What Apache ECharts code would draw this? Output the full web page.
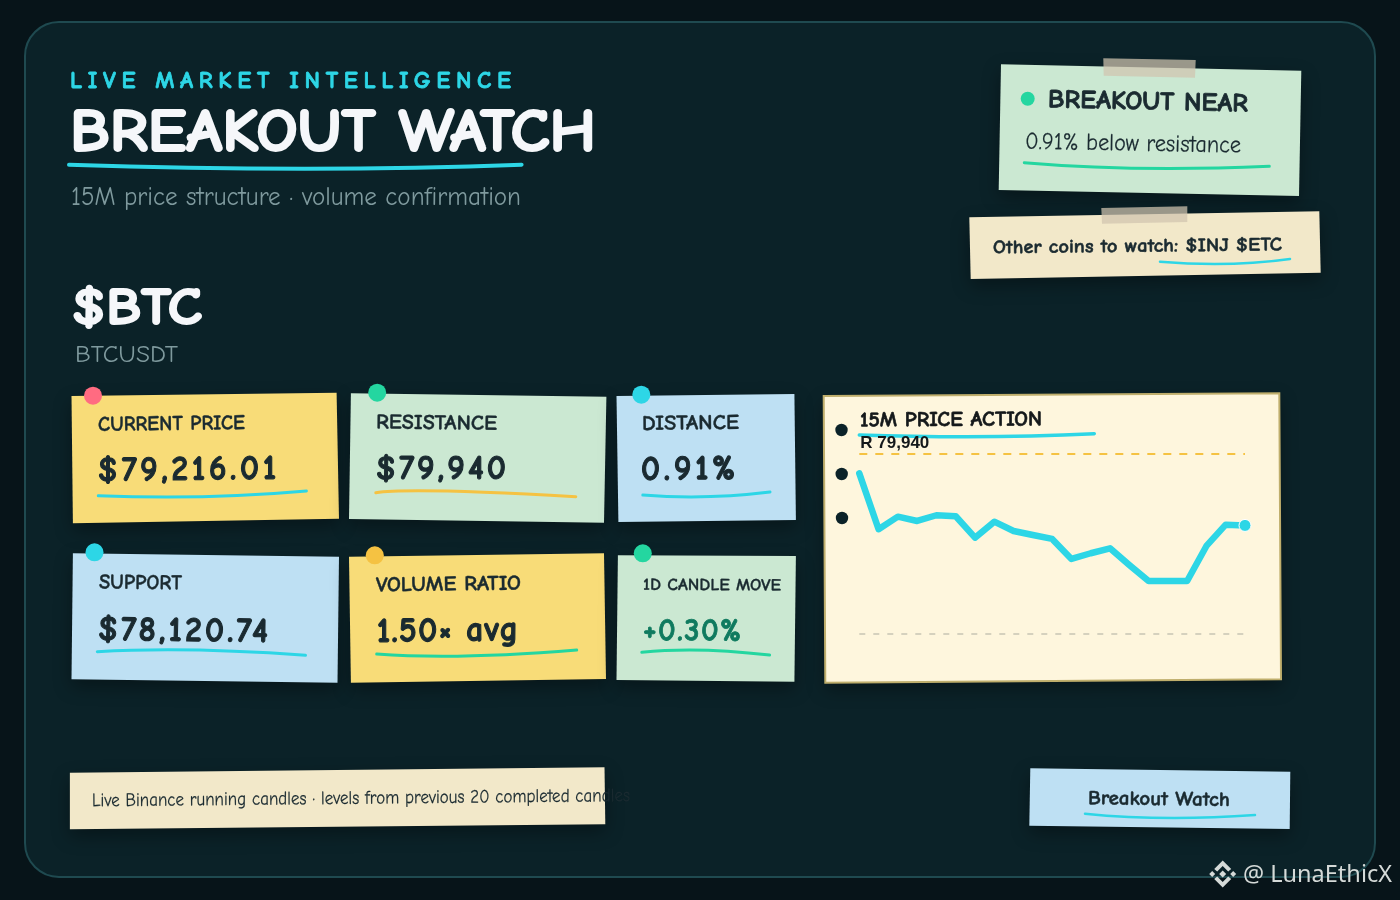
<!DOCTYPE html>
<html><head><meta charset="utf-8">
<style>html,body{margin:0;padding:0;background:#071419}#c{width:1400px;height:900px}</style>
<script src="https://cdn.jsdelivr.net/npm/echarts@6/dist/echarts.min.js"></script>
</head><body><div id="c"></div>
<script>
const candles = ['c01','c02','c03','c04','c05','c06','c07','c08','c09','c10','c11','c12','c13','c14','c15','c16','c17','c18','c19','c20','c21'];
const prices = [79744,79177,79305,79261,79319,79309,79092,79254,79160,79119,79079,78876,78934,78984,78815,78653,78653,78653,79008,79224,79216.01];
const resistance = 79940;
const support = 78120.74;
const resistanceLabel = 'R 79,940';
const HAND = '"Comic Neue","Comic Sans MS","Chalkboard SE",cursive';
const INK = '#1a2a30', CYAN = '#2dd6e6', GREEN = '#24d6a0', GOLD = '#f5c242', WHITE = '#f5f7fa', MUTED = '#7f9a9e';
const YELLOW = '#f8dc78', MINT = '#cbe8d2', SKY = '#bee0f3', CREAM = '#f2e8c9';

// letter spacing for the tracked text
const tracked = {};
for (const fn of ['fillText','strokeText']) {
  const orig = CanvasRenderingContext2D.prototype[fn];
  CanvasRenderingContext2D.prototype[fn] = function(t,x,y){
    if ('letterSpacing' in this) this.letterSpacing = tracked[t] ? tracked[t]+'px' : '0px';
    return orig.call(this,t,x,y);
  };
}

const el = [];
const measure = document.createElement('canvas').getContext('2d');
function note(pts, fill){
  el.push({type:'polygon', z:0, silent:true, shape:{points:pts},
    style:{fill, shadowBlur:18, shadowColor:'rgba(0,0,0,.35)', shadowOffsetY:7}});
}
function tape(pts){ el.push({type:'polygon', z:1, silent:true, shape:{points:pts}, style:{fill:'rgba(208,196,176,.73)'}}); }
function dot(x,y,r,fill,z){ el.push({type:'circle', z:z||3, silent:true, shape:{cx:x,cy:y,r}, style:{fill}}); }
function stroke(a,m,b,color,w){
  const cx = 2*m[0]-(a[0]+b[0])/2, cy = 2*m[1]-(a[1]+b[1])/2;
  el.push({type:'bezierCurve', z:1, silent:true, shape:{x1:a[0],y1:a[1],x2:b[0],y2:b[1],cpx1:cx,cpy1:cy},
    style:{stroke:color, lineWidth:w, lineCap:'round', fill:null}});
}
function txt(text,x,y,size,weight,fill,deg,width,family,heavy){
  const font = weight+' '+size+'px '+(family||HAND);
  measure.font = font;
  const sx = width ? width/measure.measureText(text).width : 1;
  const style = {text, x:0, y:0, font, fill, textAlign:'left', verticalAlign:'middle'};
  if (heavy) { style.stroke = fill; style.lineWidth = heavy; style.lineJoin='round'; }
  el.push({type:'text', z:5, silent:true, x, y, rotation:-(deg||0)*Math.PI/180, scaleX:sx, style});
}
function spaced(text,x,y,size,fill,sx,width,heavy,deg){
  const font = 'bold '+size+'px '+HAND;
  measure.font = font;
  const natural = measure.measureText(text).width*sx;
  tracked[text] = (width-natural)/(text.length-1)/sx;
  const style = {text, x:0, y:0, font, fill, textAlign:'left', verticalAlign:'middle', stroke:fill, lineWidth:heavy, lineJoin:'round'};
  el.push({type:'text', z:5, silent:true, x, y, rotation:-(deg||0)*Math.PI/180, scaleX:sx, style});
}

// panel
el.push({type:'rect', z:0, silent:true, shape:{x:25,y:22,width:1350,height:855,r:34}, style:{fill:'#0b2228', stroke:'#1f4a50', lineWidth:2}});

// header
spaced('LIVE MARKET INTELLIGENCE',70,80.5,25,CYAN,0.95,441,0.8);
txt('BREAKOUT WATCH',70,134,60,'bold',WHITE,0,526,null,2);
stroke([69,164.7],[304.5,168.7],[521.6,164.7],CYAN,4);
txt('15M price structure · volume confirmation',71,198,26,'normal',MUTED,0,450);
txt('$BTC',72,309,52,'bold',WHITE,0,130,null,2);
txt('BTCUSDT',75,355,24,'normal',MUTED,0,103);

// top right notes
note([[1001,64.3],[1301.3,70.7],[1299,196],[998.7,190]],MINT);
tape([[1103.3,58.3],[1195.7,60],[1195,77.7],[1103.7,75.7]]);
dot(1027.7,98.7,7,GREEN);
txt('BREAKOUT NEAR',1048,100,26,'bold',INK,1.2,200,null,0.8);
txt('0.91% below resistance',1025,142,24,'normal',INK,1,216,null,0.2);
stroke([1024.3,162.7],[1140,168.3],[1269.3,166.3],GREEN,3);
note([[969.3,217.3],[1319.3,211.3],[1320.7,272.7],[970.7,279]],CREAM);
tape([[1101.3,208],[1187.3,206.3],[1187.3,222],[1102,223.7]]);
txt('Other coins to watch: $INJ $ETC',993,248,19,'bold',INK,-0.6,289,null,0.5);
stroke([1160,261.7],[1226.7,264],[1290,259],CYAN,2.5);

// cards
note([[71.5,396],[336.6,392.7],[339,518.7],[72.9,523.3]],YELLOW);
note([[350.9,393.3],[606.4,396.7],[604,522.7],[349,519]],MINT);
note([[616.5,396],[794.4,394],[795.9,520],[618.4,522]],SKY);
note([[72.9,553.3],[339,556.7],[337.5,682.7],[71.5,679.3]],SKY);
note([[349,556.7],[604,553.3],[606,679],[350.9,682.7]],YELLOW);
note([[617.9,555.3],[795.9,556],[794.4,681.7],[616.5,680]],MINT);
dot(93,395.7,9,'#ff6b81');
dot(377.2,392.7,9,GREEN);
dot(641.3,394.7,9,CYAN);
dot(94.5,552.3,9,CYAN);
dot(374.8,555.3,9,GOLD);
dot(642.8,553.3,9,GREEN);

txt('CURRENT PRICE',98,425,21,'bold',INK,-0.7,147,null,0.4);
spaced('$79,216.01',98,471,35,INK,0.96,178,1.1,-0.7);
stroke([98.3,495.7],[203.5,496.7],[306.4,491],CYAN,3);
txt('RESISTANCE',376,422.5,21,'bold',INK,0.7,121,null,0.4);
spaced('$79,940',376,469,35,INK,0.96,130,1.1);
stroke([375.8,492.7],[442.8,491],[575.8,496.7],GOLD,3);
txt('DISTANCE',642,424,21,'bold',INK,-0.6,97,null,0.4);
spaced('0.91%',641,470,35,INK,0.96,94,1.1,-0.6);
stroke([642.8,495],[706,496.7],[770,492],CYAN,3);
txt('SUPPORT',99,582.5,21,'bold',INK,0.7,83,null,0.4);
spaced('$78,120.74',98,630,35,INK,0.96,170,1.1,0.7);
stroke([97.3,651.7],[194,650],[305.5,655.3],CYAN,3);
txt('VOLUME RATIO',376,585.5,21,'bold',INK,-0.7,145,null,0.4);
spaced('1.50× avg',377,632,35,INK,0.96,141,1.1,-0.7);
stroke([376.7,654],[466.7,656],[576.7,650],GREEN,3);
txt('1D CANDLE MOVE',643,585,17,'bold',INK,0.3,138,null,0.3);
spaced('+0.30%',643,631,32,'#0f7a5f',0.96,98,0.8,0.3);
stroke([641.8,652.3],[701,650],[769.6,655],GREEN,3);

// chart note
note([[823.7,396],[1279.3,393.3],[1281,679.3],[825.3,682.7]],'#fef6dd');
el.push({type:'polygon', z:1, silent:true, shape:{points:[[823.7,396],[1279.3,393.3],[1281,679.3],[825.3,682.7]]}, style:{fill:null, stroke:'#bfae6c', lineWidth:2}});
dot(841.5,430,6.2,'#0b2228');
dot(841.7,474,6.2,'#0b2228');
dot(842,518,6.2,'#0b2228');
txt('15M PRICE ACTION',860,420.5,21,'bold','#14181a',-0.3,182,null,0.6);
stroke([859.3,435],[981.7,436.7],[1094.3,433.7],CYAN,3.5);

// footer notes
note([[69.9,772.7],[604.5,767.3],[605.3,824.3],[69.9,829.3]],CREAM);
txt('Live Binance running candles · levels from previous 20 completed candles',92,801,19,'normal',INK,-0.55,538,null,0.2);
note([[1030.3,768.3],[1290.3,771.7],[1289.7,829],[1029.3,825.7]],SKY);
txt('Breakout Watch',1088,798.5,20,'bold',INK,0.7,142,null,0.5);
stroke([1085,813.7],[1166.7,818],[1255,815],CYAN,2.5);

// watermark
const MARK = '#d5dad8';
const logo = (pts)=>el.push({type:'polygon', z:6, silent:true, shape:{points:pts.map(p=>[1222.7+p[0],874+p[1]])}, style:{fill:MARK}});
logo([[0,-3.5],[3.5,0],[0,3.5],[-3.5,0]]);
logo([[-10.5,-3],[-7.5,0],[-10.5,3],[-13.5,0]]);
logo([[10.5,-3],[13.5,0],[10.5,3],[7.5,0]]);
logo([[0,-13.5],[8.5,-5],[5.5,-2.5],[0,-8],[-5.5,-2.5],[-8.5,-5]]);
logo([[0,13.5],[8.5,5],[5.5,2.5],[0,8],[-5.5,2.5],[-8.5,5]]);
txt('@ LunaEthicX',1243,875,24,'normal',MARK,0,149,'"Noto Sans"');

const chart = echarts.init(document.getElementById('c'));
const last = prices.length-1;
chart.setOption({
  animation:false,
  backgroundColor:'#071419',
  graphic:{elements:el},
  grid:{left:859.3,width:385.7,top:438.2,height:207.2},
  xAxis:{type:'category',data:candles,boundaryGap:false,show:false},
  yAxis:{type:'value',min:78000,max:80100,show:false,splitLine:{show:false}},
  series:[{
    type:'line',data:prices,z:3,
    showSymbol:true,showAllSymbol:true,symbol:'circle',
    symbolSize:(v,p)=>p.dataIndex===last?12:0,
    itemStyle:{color:CYAN,borderColor:'#ffffff',borderWidth:1},
    lineStyle:{color:CYAN,width:6.5,join:'round',cap:'round'},
    markLine:{silent:true,symbol:'none',animation:false,data:[
      {yAxis:resistance,lineStyle:{color:GOLD,width:2,type:[8,8]},
        label:{show:true,position:'insideStartTop',formatter:resistanceLabel,distance:[1,2],
          color:'#14181a',fontFamily:'Liberation Sans',fontWeight:'bold',fontSize:17}},
      {yAxis:support,lineStyle:{color:'rgba(26,42,48,.18)',width:2,type:[6,8]},label:{show:false}}
    ]}
  }]
});
</script></body></html>
